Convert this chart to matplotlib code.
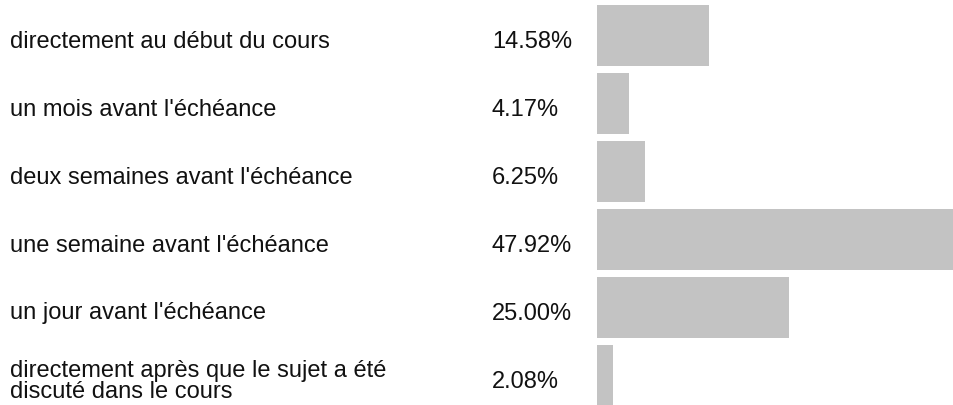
import matplotlib
matplotlib.use("Agg")
import matplotlib.pyplot as plt

categories = [
    "directement au début du cours",
    "un mois avant l'échéance",
    "deux semaines avant l'échéance",
    "une semaine avant l'échéance",
    "un jour avant l'échéance",
    "directement après que le sujet a été\ndiscuté dans le cours",
]
values = [14.58, 4.17, 6.25, 47.92, 25.00, 2.08]
pct_labels = [f"{v:.2f}%" for v in values]

W, H = 954, 405
fig = plt.figure(figsize=(W / 100, H / 100), dpi=100)
plt.rcParams['font.family'] = ['Liberation Sans', 'DejaVu Sans']

x0 = 597
ax = fig.add_axes([x0 / W, 0, 1 - x0 / W, 1])
px_per_pct = 7.68
ax.set_xlim(0, (W - x0) / px_per_pct)
row = 68.0
top_pad = 5.0
bar_h = 61.0
ymin = -(top_pad + bar_h / 2) / row
ymax = (H - top_pad - bar_h / 2) / row
ax.set_ylim(ymax, ymin)
ypos = list(range(len(values)))
ax.barh(ypos, values, height=bar_h / row, color="#c3c3c3", edgecolor="none")
ax.axis("off")

tax = fig.add_axes([0, 0, 1, 1], zorder=-1)
tax.set_xlim(0, W)
tax.set_ylim(ymax, ymin)
tax.axis("off")
off = 6.0 / row
fs = 17
for i, (c, p) in enumerate(zip(categories, pct_labels)):
    tax.text(10, i + off, c, ha="left", va="center", fontsize=fs,
             color="#111111", linespacing=0.95)
    tax.text(492, i + off, p, ha="left", va="center", fontsize=fs,
             color="#111111")

fig.savefig("out.png", dpi=100)
